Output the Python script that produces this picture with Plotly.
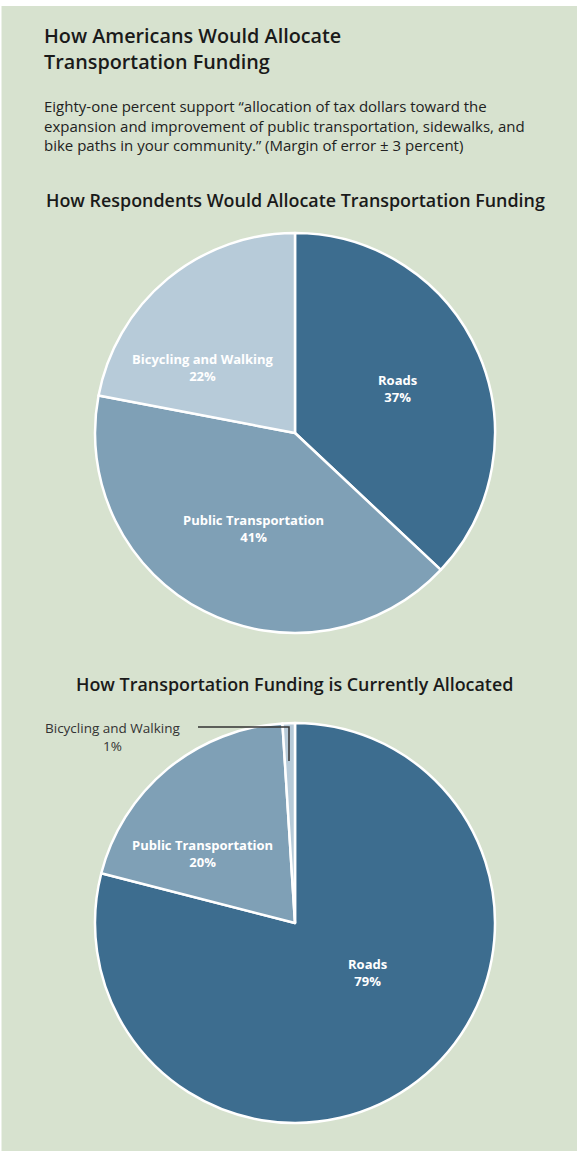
# %% Requirements and constants
import plotly.graph_objects as go

W, H = 579, 1151
BG = '#d7e2cf'
FONT = 'Open Sans'

# survey: how respondents would allocate funding
wish_labels = ['Roads', 'Public Transportation', 'Bicycling and Walking']
wish_values = [37, 41, 22]

# how funding is currently allocated
now_labels = ['Roads', 'Public Transportation', 'Bicycling and Walking']
now_values = [79, 20, 1]

colors = ['#3d6d8f', '#7fa0b6', '#b7cbd9']


def px_x(x):
    return x / W


def px_y(y):
    return 1 - y / H


# %% Figure
fig = go.Figure()

pie_style = dict(
    sort=False, direction='clockwise', rotation=0,
    textinfo='none', hoverinfo='skip', showlegend=False,
    marker=dict(colors=colors, line=dict(color='white', width=2.5)),
)

fig.add_trace(go.Pie(
    labels=wish_labels, values=wish_values,
    domain=dict(x=[px_x(95), px_x(495)], y=[px_y(633), px_y(233)]),
    **pie_style))

fig.add_trace(go.Pie(
    labels=now_labels, values=now_values,
    domain=dict(x=[px_x(95), px_x(495)], y=[px_y(1123), px_y(723)]),
    **pie_style))

ann = []


def text(x, y, s, size, color='white', weight='normal', anchor='center'):
    ann.append(dict(x=px_x(x), y=px_y(y), xref='paper', yref='paper',
                    text=s, showarrow=False, xanchor=anchor, yanchor='middle',
                    align='center' if anchor == 'center' else 'left',
                    font=dict(family=FONT, size=size, color=color, weight=weight)))


# titles
text(42, 48, 'How Americans Would Allocate<br>Transportation Funding', 19.8,
     color='#1a1a1a', weight=600, anchor='left')
text(42, 125,
     'Eighty-one percent support \u201callocation of tax dollars toward the<br>'
     'expansion and improvement of public transportation, sidewalks, and<br>'
     'bike paths in your community.\u201d (Margin of error \u00b1 3 percent)',
     15, color='#222', anchor='left')
text(295, 200, 'How Respondents Would Allocate Transportation Funding', 17.9,
     color='#1a1a1a', weight=600)
text(294, 684, 'How Transportation Funding is Currently Allocated', 17.9,
     color='#1a1a1a', weight=600)

# slice labels, first pie
lab = lambda i, labels, vals: f'{labels[i]}<br>{vals[i]}%'
text(397, 388, lab(0, wish_labels, wish_values), 13, weight='bold')
text(253, 528, lab(1, wish_labels, wish_values), 13, weight='bold')
text(203, 367, lab(2, wish_labels, wish_values), 13, weight='bold')

# slice labels, second pie
text(367, 972, lab(0, now_labels, now_values), 13, weight='bold')
text(202, 853, lab(1, now_labels, now_values), 13, weight='bold')
text(112, 737, lab(2, now_labels, now_values), 13.5, color='#333')

fig.update_layout(annotations=ann)

# callout leader for the 1% slice and the white frame strips
shapes = [
    dict(type='path', xref='paper', yref='paper',
         path=f'M {px_x(198)} {px_y(727)} L {px_x(289)} {px_y(727)} L {px_x(289)} {px_y(761)}',
         line=dict(color='#333', width=1.5)),
    dict(type='rect', xref='paper', yref='paper', x0=0, x1=1, y0=px_y(6), y1=1,
         fillcolor='white', line_width=0, layer='above'),
    dict(type='rect', xref='paper', yref='paper', x0=0, x1=px_x(1.5), y0=0, y1=1,
         fillcolor='white', line_width=0, layer='above'),
    dict(type='rect', xref='paper', yref='paper', x0=px_x(577), x1=1, y0=0, y1=1,
         fillcolor='white', line_width=0, layer='above'),
]

fig.update_layout(
    width=W, height=H, margin=dict(l=0, r=0, t=0, b=0),
    paper_bgcolor=BG, plot_bgcolor=BG, shapes=shapes,
)

# drop the default page margin so the figure sits at the window corner
fig.write_html('out.html', config={'displayModeBar': False},
               post_script="document.body.style.margin='0';"
                           "document.body.style.overflow='hidden';")
